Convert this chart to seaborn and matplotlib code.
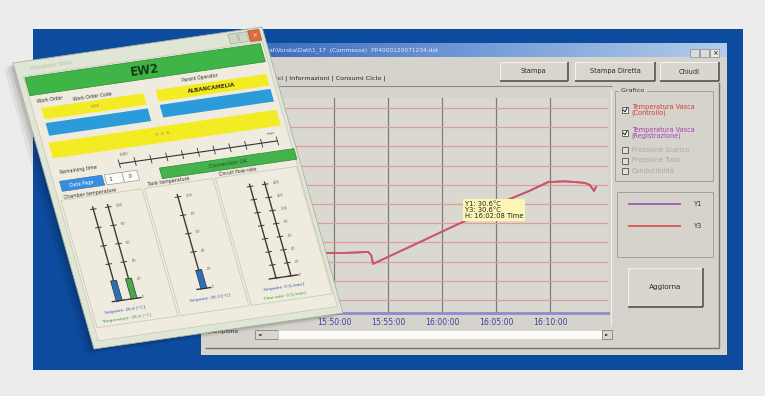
import numpy as np
import pandas as pd
import matplotlib
matplotlib.use("Agg")
import matplotlib.pyplot as plt
import matplotlib.dates as mdates
from matplotlib.patches import Rectangle, Polygon
from matplotlib.transforms import Affine2D
import seaborn as sns

# ---------------- data ----------------
times = ["15:46:00", "15:48:00", "15:50:00", "15:51:30", "15:53:09", "15:53:26",
         "15:53:37", "15:55:40", "15:57:58", "16:00:00", "16:02:08", "16:04:00",
         "16:06:01", "16:08:00", "16:09:49", "16:11:23", "16:13:14", "16:13:42",
         "16:14:04", "16:14:15"]
temp_y1 = [22.2, 22.3, 22.2, 22.3, 22.5, 21.7, 19.4, 22.1, 25.1, 27.8, 30.6, 33.0,
           36.0, 38.3, 40.7, 40.9, 40.5, 39.9, 38.4, 39.4]
temp_y3 = [22.2, 22.3, 22.2, 22.3, 22.5, 21.7, 19.4, 22.1, 25.1, 27.8, 30.6, 33.0,
           36.0, 38.3, 40.7, 40.9, 40.5, 39.9, 38.4, 39.4]
series_names = ["Y1", "Y3"]
tick_times = ["15:50:00", "15:55:00", "16:00:00", "16:05:00", "16:10:00"]
y_grid = [10, 15, 20, 25, 30, 35, 40, 45, 50, 55, 60]
x_start, x_end = "15:44:04", "16:15:22"

DAY = "2000-01-01 "
df = pd.DataFrame({
    "time": pd.to_datetime([DAY + t for t in times] * 2),
    "temp": temp_y1 + temp_y3,
    "series": [series_names[0]] * len(times) + [series_names[1]] * len(times),
})

W, H = 765, 396
fig = plt.figure(figsize=(W / 100, H / 100), dpi=100)
fig.patch.set_facecolor("#ececec")

# ---------------- background (pixel coordinates) ----------------
bg = fig.add_axes([0, 0, 1, 1], zorder=0)
bg.set_xlim(0, W); bg.set_ylim(H, 0); bg.axis("off")

def rect(x0, y0, x1, y1, fc, ec="none", lw=0, z=1):
    bg.add_patch(Rectangle((x0, y0), x1 - x0, y1 - y0, fc=fc, ec=ec, lw=lw, zorder=z))

def hline(y, x0, x1, c, lw=0.8, z=2):
    bg.plot([x0, x1], [y, y], color=c, lw=lw, zorder=z, solid_capstyle="butt")

def vline(x, y0, y1, c, lw=0.8, z=2):
    bg.plot([x, x], [y0, y1], color=c, lw=lw, zorder=z, solid_capstyle="butt")

def button(x0, y0, x1, y1, label, size=4.8):
    rect(x0, y0, x1, y1, "#d8d6ce", z=2)
    hline(y0, x0, x1, "#f2f1ec", 0.8, 3); vline(x0, y0, y1, "#f2f1ec", 0.8, 3)
    hline(y1, x0, x1, "#55534c", 1.2, 3); vline(x1, y0, y1, "#55534c", 1.2, 3)
    bg.text((x0 + x1) / 2, (y0 + y1) / 2, label, ha="center", va="center",
            fontsize=size, color="#2a2a2a", zorder=4)

rect(33, 29, 743, 370, "#0d4b9e", z=0.5)
rect(201, 43, 727, 355, "#d5d3cb", z=1)
# title bar gradient
grad = np.linspace(0, 1, 256).reshape(1, -1)
cmap = matplotlib.colors.LinearSegmentedColormap.from_list("tb", ["#2f5fb5", "#6f98d6", "#b3cdea"])
bg.imshow(grad, extent=(201, 727, 57, 43), aspect="auto", cmap=cmap, zorder=1.5)
bg.text(262, 50.5, "onal\\Vorska\\Dati\\1_17  (Commessa)  PP4000120071234.dat", fontsize=4.2,
        color="#e6ecf8", va="center", zorder=3)
for i, x0 in enumerate([690, 700, 710]):
    rect(x0, 49, x0 + 9, 57, "#dcdcd8" if i < 2 else "#e8e8e4", ec="#777", lw=0.4, z=3)
bg.text(714.5, 53, "×", fontsize=5, ha="center", va="center", color="#111", zorder=4)

# tabs
bg.text(262, 78, "Grafici | Informazioni | Consumi Ciclo |", fontsize=4.6, color="#222",
        va="center", zorder=3)
hline(86, 205, 612, "#8c8a82", 0.8)
# buttons on top
button(500, 62, 568, 81, "Stampa")
button(575, 62, 655, 81, "Stampa Diretta")
button(660, 62, 719, 81, "Chiudi")
# inner frame lines
vline(719, 82, 348, "#77756e", 1.0)
hline(348, 205, 719, "#77756e", 1.0)
vline(611, 90, 326, "#f0efea", 0.8)

# group box "Grafico"
rect(615, 91, 713, 181, "none", ec="#a3a199", lw=0.7, z=2)
bg.text(619, 91, " Grafico ", fontsize=4.6, color="#333", va="center", zorder=4,
        bbox=dict(fc="#d5d3cb", ec="none", pad=0.2))
checks = [(110, "Temperatura Vasca\n(Controllo)", "#d23c3c", True),
          (133, "Temperatura Vasca\n(Registrazione)", "#a240bc", True),
          (150, "Pressione Scarico", "#a9a79f", False),
          (160.5, "Pressione Tubo", "#a9a79f", False),
          (171, "Conducibilità", "#a9a79f", False)]
for y, lab, col, on in checks:
    rect(622, y - 3, 628, y + 3, "#f4f4f0" if on else "#e0dfd8", ec="#55534c", lw=0.6, z=3)
    if on:
        bg.plot([623.2, 625, 627], [y, y + 1.8, y - 2], color="#222", lw=0.7, zorder=4)
    bg.text(632, y, lab, fontsize=4.7, color=col, va="center", linespacing=1.0, zorder=4)

# legend box
rect(617, 192, 713, 257, "none", ec="#a3a199", lw=0.7, z=2)
hline(204, 628, 681, "#a05ab4", 1.3, 3)
hline(226, 628, 681, "#d9534f", 1.3, 3)
bg.text(694, 204, "Y1", fontsize=4.8, color="#333", va="center", zorder=4)
bg.text(694, 226, "Y3", fontsize=4.8, color="#333", va="center", zorder=4)

button(628, 268, 703, 307, "Aggiorna", 5.2)

# scroll bar
rect(255, 330, 278, 339, "#d8d6ce", ec="#77756e", lw=0.5, z=2)
rect(278, 330, 602, 339, "#fbfbf9", ec="#c8c6be", lw=0.4, z=2)
rect(602, 330, 612, 339, "#d8d6ce", ec="#77756e", lw=0.5, z=2)
bg.text(259.5, 334.5, "◄", fontsize=3.2, ha="center", va="center", color="#111", zorder=4)
bg.text(607, 334.5, "►", fontsize=3.2, ha="center", va="center", color="#111", zorder=4)
bg.text(207, 331, "(Campiona", fontsize=4.2, color="#333", va="center", zorder=3)

# ---------------- the chart ----------------
ax = fig.add_axes([270 / W, 1 - 313 / H, (608 - 270) / W, (313 - 98) / H], zorder=1)
ax.set_facecolor("#d9d9d2")
sns.lineplot(data=df, x="time", y="temp", hue="series", hue_order=series_names,
             palette={"Y1": "#a05ab4", "Y3": "#d4555c"}, legend=False, ax=ax,
             linewidth=1.3)
ax.set_xlim(pd.Timestamp(DAY + x_start), pd.Timestamp(DAY + x_end))
ax.set_ylim(6.6, 62.6)
ax.set_yticks(y_grid)
ax.set_yticklabels([])
ax.set_xticks([pd.Timestamp(DAY + t) for t in tick_times])
ax.xaxis.set_major_formatter(mdates.DateFormatter("%H:%M:%S"))
ax.tick_params(axis="x", length=0, pad=3.5, labelsize=5.6, labelcolor="#3a44a4")
ax.tick_params(axis="y", length=0)
ax.yaxis.grid(True, color="#e39a9a", lw=0.9)
ax.xaxis.grid(True, color="#7c7c78", lw=0.9)
ax.set_axisbelow(True)
for s in ["top", "left", "right"]:
    ax.spines[s].set_visible(False)
ax.spines["bottom"].set_color("#8a8ccc")
ax.spines["bottom"].set_linewidth(2)
ax.set_xlabel(""); ax.set_ylabel("")
tip_t = pd.Timestamp(DAY + "16:02:08")
ax.text(tip_t, 35.8, "Y1: 30.6°C      \nY3: 30.6°C\nH: 16:02:08 Time", fontsize=4.9, color="#222",
        va="top", ha="left", linespacing=1.05, zorder=5,
        bbox=dict(fc="#fbf6b4", ec="none", pad=1.2))

# ---------------- the tilted status window on top ----------------
ov = fig.add_axes([0, 0, 1, 1], zorder=3)
ov.set_xlim(0, W); ov.set_ylim(H, 0); ov.axis("off")
ov.patch.set_alpha(0)
A = (249, -36, 81, 286, 13, 63)
T = Affine2D.from_values(*A) + ov.transData
ROT = 8.2

for k, (dx, al) in enumerate([(9, 0.05), (6, 0.07), (3, 0.10)]):
    Ts = Affine2D.from_values(A[0], A[1], A[2], A[3], A[4] - dx, A[5] + dx * 0.6) + ov.transData
    ov.add_patch(Polygon([(0, 0), (1, 0), (1, 1), (0, 1)], closed=True, transform=Ts,
                         fc="#000000", alpha=al, ec="none", zorder=1))

def oq(u0, v0, u1, v1, fc, ec="none", lw=0, z=2):
    ov.add_patch(Polygon([(u0, v0), (u1, v0), (u1, v1), (u0, v1)], closed=True,
                         transform=T, fc=fc, ec=ec, lw=lw, zorder=z))

def ol(us, vs, c, lw=0.8, z=3):
    ov.plot(us, vs, transform=T, color=c, lw=lw, zorder=z, solid_capstyle="butt")

def ot(u, v, s, size=3.6, c="#333", ha="left", va="center", weight="normal", z=4):
    ov.text(u, v, s, transform=T, rotation=ROT, rotation_mode="anchor", fontsize=size,
            color=c, ha=ha, va=va, fontweight=weight, zorder=z)

oq(0, 0, 1, 1, "#dfe6d6", ec="#a9b2a0", lw=0.6, z=2)
oq(0.025, 0.05, 0.985, 0.975, "#efebdf", ec="#c9c5b6", lw=0.5, z=2.1)
ot(0.06, 0.027, "Visualizza Stato", 4, "#b9c0b0")
oq(0.86, 0.008, 0.895, 0.042, "#cfd6c6", ec="#9aa290", lw=0.4, z=3)
oq(0.9, 0.008, 0.935, 0.042, "#cfd6c6", ec="#9aa290", lw=0.4, z=3)
oq(0.94, 0.006, 0.985, 0.044, "#dc6a3a", ec="#a84a2a", lw=0.4, z=3)
ot(0.962, 0.026, "×", 4.5, "white", ha="center")
# EW2 header
oq(0.03, 0.055, 0.975, 0.118, "#3fb548", ec="#2e8a35", lw=0.5, z=3)
ot(0.5, 0.088, "EW2", 8.5, "#163a16", ha="center", weight="bold")
# order fields
ot(0.05, 0.14, "Work Order", 3.3, "#333")
ot(0.19, 0.152, "Work Order Code", 3.3, "#333")
ot(0.63, 0.14, "Parent Operator", 3.3, "#333")
oq(0.06, 0.165, 0.47, 0.205, "#f4ec22", z=3)
oq(0.52, 0.16, 0.965, 0.2, "#f4ec22", z=3)
ot(0.27, 0.186, "0.00", 3, "#777", ha="center")
ot(0.74, 0.181, "ALBANCAMELIA", 4, "#3a3a10", ha="center", weight="bold")
oq(0.06, 0.218, 0.47, 0.262, "#2b9bd9", z=3)
oq(0.52, 0.212, 0.965, 0.256, "#2b9bd9", z=3)
oq(0.05, 0.285, 0.965, 0.34, "#f4ec22", z=3)
ot(0.5, 0.313, "0  0  0", 3.2, "#777", ha="center")
# ruler
ol([0.3, 0.935], [0.39, 0.39], "#333", 0.8)
for u in np.linspace(0.3, 0.935, 11):
    ol([u, u], [0.375, 0.405], "#333", 0.6)
ot(0.31, 0.36, "0:00", 2.8, "#555")
ot(0.9, 0.36, "max", 2.8, "#555")
ot(0.06, 0.39, "Remaining time", 3.4, "#333")
oq(0.45, 0.424, 0.99, 0.461, "#45b34c", ec="#2e8a35", lw=0.5, z=3)
ot(0.72, 0.443, "Connection OK", 3.8, "#1f4a1f", ha="center")
oq(0.05, 0.42, 0.22, 0.455, "#3a8ede", ec="#2a6aaa", lw=0.4, z=3)
ot(0.135, 0.438, "Data Page", 3.4, "white", ha="center")
oq(0.23, 0.42, 0.3, 0.455, "#fbfbf7", ec="#888", lw=0.4, z=3)
oq(0.3, 0.42, 0.36, 0.455, "#fbfbf7", ec="#888", lw=0.4, z=3)
ot(0.245, 0.438, "1", 3.6, "#222")
ot(0.32, 0.438, "0", 3.6, "#222")
# panels
for u0, u1, title in [(0.035, 0.36, "Chamber temperature"), (0.37, 0.645, "Tank temperature"),
                      (0.655, 0.98, "Circuit flow-rate")]:
    oq(u0, 0.485, u1, 0.93, "none", ec="#cdc9ba", lw=0.6, z=3)
    ot(u0 + 0.015, 0.475, title, 3.4, "#333")

def gauge(u, labels, frac=None, color=None, show=True, v0=0.53, v1=0.85):
    ol([u, u], [v0 - 0.01, v1], "#3a3a3a", 1.0)
    ol([u - 0.03, u + 0.03], [v1, v1], "#3a3a3a", 1.0)
    n = len(labels)
    for i, lab in enumerate(labels):
        v = v0 + (v1 - v0) * i / (n - 1)
        ol([u - 0.013, u + 0.013], [v, v], "#3a3a3a", 0.7)
        if show:
            ot(u + 0.03, v, lab, 2.7, "#666")
    if frac is not None:
        oq(u - 0.012, v1 - frac * (v1 - v0), u + 0.012, v1, color, ec="#222", lw=0.4, z=3.5)

g100 = ["100", "80", "60", "40", "20", "0"]
gauge(0.15, g100, 0.22, "#2e6fb8", show=False)
gauge(0.21, g100, 0.22, "#4aa84a")
gauge(0.49, g100, 0.2, "#2e6fb8")
gflow = ["140", "120", "100", "80", "60", "40", "20", "0"]
gauge(0.78, gflow, show=False)
gauge(0.84, gflow)
ot(0.08, 0.885, "Setpoint: 26.6 [°C]", 3.2, "#2a55b0")
ot(0.06, 0.912, "Temperature: 26.6 [°C]", 3.2, "#3a9a3a")
ot(0.42, 0.885, "Setpoint: 26.3 [°C]", 3.2, "#2a55b0")
ot(0.72, 0.885, "Setpoint: 0 [L/min]", 3.2, "#2a55b0")
ot(0.71, 0.912, "Flow rate: 0 [L/min]", 3.2, "#3a9a3a")

ov.set_xlim(0, W); ov.set_ylim(H, 0)
fig.savefig("out.png", dpi=100, facecolor=fig.get_facecolor())
